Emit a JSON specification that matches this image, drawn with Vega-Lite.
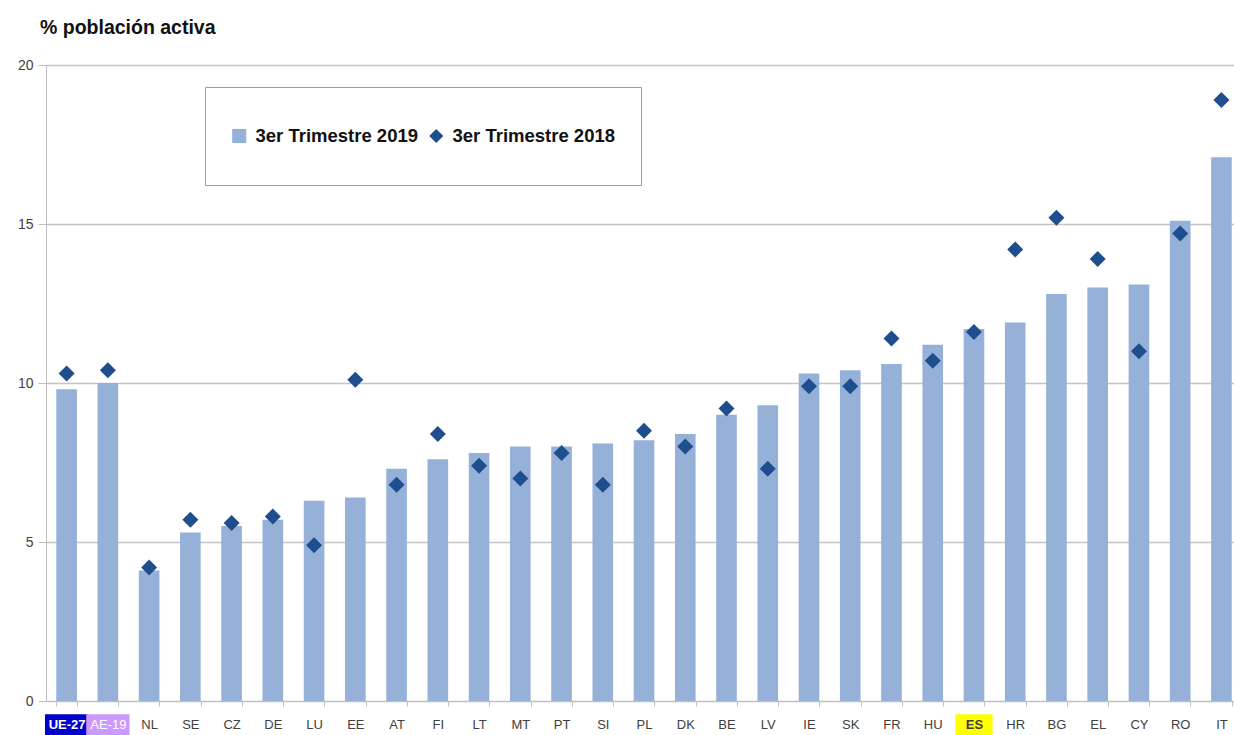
{
  "$schema": "https://vega.github.io/schema/vega-lite/v6.json",
  "width": 1188,
  "height": 636,
  "autosize": {"type": "none"},
  "padding": {"left": 46, "top": 65, "right": 0, "bottom": 34},
  "background": "white",
  "config": {"view": {"stroke": null}, "font": "Liberation Sans"},
  "title": {"text": "% población activa", "anchor": "start", "frame": "group", "fontSize": 19.5, "fontWeight": "bold", "font": "Liberation Sans", "color": "#111111", "dx": -6, "offset": 20},
  "data": {"values": [
    {"pais": "UE-27", "2019": 9.8, "2018": 10.3},
    {"pais": "AE-19", "2019": 10.0, "2018": 10.4},
    {"pais": "NL", "2019": 4.1, "2018": 4.2},
    {"pais": "SE", "2019": 5.3, "2018": 5.7},
    {"pais": "CZ", "2019": 5.5, "2018": 5.6},
    {"pais": "DE", "2019": 5.7, "2018": 5.8},
    {"pais": "LU", "2019": 6.3, "2018": 4.9},
    {"pais": "EE", "2019": 6.4, "2018": 10.1},
    {"pais": "AT", "2019": 7.3, "2018": 6.8},
    {"pais": "FI", "2019": 7.6, "2018": 8.4},
    {"pais": "LT", "2019": 7.8, "2018": 7.4},
    {"pais": "MT", "2019": 8.0, "2018": 7.0},
    {"pais": "PT", "2019": 8.0, "2018": 7.8},
    {"pais": "SI", "2019": 8.1, "2018": 6.8},
    {"pais": "PL", "2019": 8.2, "2018": 8.5},
    {"pais": "DK", "2019": 8.4, "2018": 8.0},
    {"pais": "BE", "2019": 9.0, "2018": 9.2},
    {"pais": "LV", "2019": 9.3, "2018": 7.3},
    {"pais": "IE", "2019": 10.3, "2018": 9.9},
    {"pais": "SK", "2019": 10.4, "2018": 9.9},
    {"pais": "FR", "2019": 10.6, "2018": 11.4},
    {"pais": "HU", "2019": 11.2, "2018": 10.7},
    {"pais": "ES", "2019": 11.7, "2018": 11.6},
    {"pais": "HR", "2019": 11.9, "2018": 14.2},
    {"pais": "BG", "2019": 12.8, "2018": 15.2},
    {"pais": "EL", "2019": 13.0, "2018": 13.9},
    {"pais": "CY", "2019": 13.1, "2018": 11.0},
    {"pais": "RO", "2019": 15.1, "2018": 14.7},
    {"pais": "IT", "2019": 17.1, "2018": 18.9}
  ]},
  "transform": [{"fold": ["2019", "2018"], "as": ["serie", "valor"]}],
  "encoding": {
    "x": {
      "field": "pais", "type": "nominal", "sort": null,
      "scale": {"paddingInner": 0.5, "paddingOuter": 0.1525, "align": 0.82},
      "axis": {
        "title": null, "labelAngle": 0, "domainColor": "#bfbfbf", "tickColor": "#bfbfbf", "zindex": 2,
        "tickBand": "extent", "tickSize": 5, "labelPadding": 12, "labelFontSize": 13,
        "labelFont": "Liberation Sans",
        "labelColor": {"condition": {"test": "datum.value === 'UE-27' || datum.value === 'AE-19'", "value": "white"}, "value": "#404040"},
        "labelFontWeight": {"condition": {"test": "datum.value === 'UE-27' || datum.value === 'ES'", "value": "bold"}, "value": "normal"}
      }
    }
  },
  "layer": [
    {
      "transform": [{"filter": "datum.serie === '2019'"}],
      "mark": {"type": "bar"},
      "encoding": {
        "y": {"field": "valor", "type": "quantitative", "scale": {"domain": [0, 20]},
          "axis": {"values": [0, 5, 10, 15, 20], "title": null, "grid": true, "gridColor": "#c4c4c4", "gridWidth": 1.5,
            "domainColor": "#bfbfbf", "tickColor": "#bfbfbf", "tickSize": 8, "labelPadding": 5,
            "labelFontSize": 14, "labelColor": "#404040", "labelFont": "Liberation Sans"}},
        "color": {"field": "serie", "type": "nominal",
          "scale": {"domain": ["2019", "2018"], "range": ["#95B1D8", "#1F4E8F"]},
          "legend": {"orient": "none", "legendX": 159, "legendY": 22, "direction": "horizontal", "title": null,
            "padding": 25, "strokeColor": "#8f9dbf", "fillColor": "white", "labelFontSize": 18.5,
            "labelFont": "Liberation Sans", "labelFontWeight": "bold", "labelColor": "#111111", "labelLimit": 400,
            "symbolSize": 200, "symbolStrokeWidth": 0, "labelExpr": "'3er Trimestre ' + datum.label",
            "columnPadding": 8, "labelOffset": 7, "clipHeight": 48}}
      }
    },
    {
      "transform": [{"filter": "datum.serie === '2018'"}],
      "mark": {"type": "point", "filled": true, "size": 256, "opacity": 1, "strokeWidth": 0},
      "encoding": {
        "y": {"field": "valor", "type": "quantitative", "scale": {"domain": [0, 20]}},
        "color": {"field": "serie", "type": "nominal"},
        "shape": {"field": "serie", "type": "nominal", "scale": {"domain": ["2019", "2018"], "range": ["square", "diamond"]}}
      }
    },
    {
      "transform": [{"filter": "datum.serie === '2019' && (datum.pais === 'UE-27' || datum.pais === 'AE-19')"}],
      "mark": {"type": "bar", "width": {"band": 2.1}},
      "encoding": {
        "y": {"datum": -0.42, "type": "quantitative", "scale": {"domain": [0, 20]}},
        "y2": {"datum": -1.12},
        "color": {"condition": {"test": "datum.pais === 'UE-27'", "value": "#0000CC"}, "value": "#CC99FF"}
      }
    },
    {
      "transform": [{"filter": "datum.serie === '2019' && datum.pais === 'ES'"}],
      "mark": {"type": "bar", "width": {"band": 1.8}, "color": "#FFFF00"},
      "encoding": {
        "y": {"datum": -0.42, "type": "quantitative", "scale": {"domain": [0, 20]}},
        "y2": {"datum": -1.12}
      }
    }
  ]
}
